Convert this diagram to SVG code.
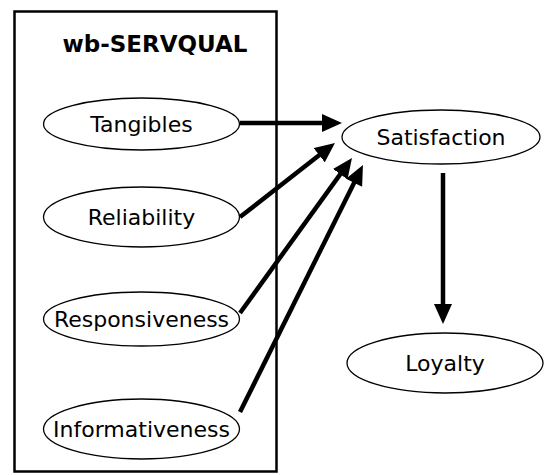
<svg xmlns="http://www.w3.org/2000/svg" width="546" height="475" viewBox="0 0 546 475">
<style>
.node ellipse{fill:#fff;stroke:#000;stroke-width:1.3}
.lbl{font-family:"DejaVu Sans",Verdana,sans-serif;font-size:22px;text-anchor:middle;fill:#000}
.conn line{stroke:#000;stroke-width:4.5;marker-end:url(#ah)}
</style>
<defs>
<marker id="ah" viewBox="0 0 20 18" refX="10" refY="9" markerWidth="20" markerHeight="18" orient="auto" markerUnits="userSpaceOnUse">
<path d="M0,0 L20,9 L0,18 z" fill="#000"/>
</marker>
</defs>
<rect width="546" height="475" fill="#fff"/>
<g id="group-wb-servqual">
<rect x="14.5" y="11.5" width="262" height="460" fill="none" stroke="#000" stroke-width="2.5"/>
<text x="155" y="52" class="lbl" style="font-weight:bold;font-size:23px">wb-SERVQUAL</text>
</g>
<g id="tangibles" class="node"><ellipse cx="141.5" cy="124" rx="98" ry="26"/><text x="141.5" y="132" class="lbl">Tangibles</text></g>
<g id="reliability" class="node"><ellipse cx="141.5" cy="217" rx="98" ry="30"/><text x="141.5" y="225" class="lbl">Reliability</text></g>
<g id="responsiveness" class="node"><ellipse cx="141.5" cy="319" rx="98" ry="27"/><text x="141.5" y="327" class="lbl">Responsiveness</text></g>
<g id="informativeness" class="node"><ellipse cx="141.5" cy="429" rx="98" ry="30"/><text x="141.5" y="437" class="lbl">Informativeness</text></g>
<g id="satisfaction" class="node"><ellipse cx="441" cy="137" rx="99" ry="27"/><text x="441" y="145" class="lbl">Satisfaction</text></g>
<g id="loyalty" class="node"><ellipse cx="445" cy="363" rx="98" ry="30"/><text x="445" y="371" class="lbl">Loyalty</text></g>
<g id="connectors" class="conn">
<line x1="240" y1="123" x2="332" y2="123"/>
<line x1="240" y1="217" x2="327.1" y2="149.1"/>
<line x1="240" y1="313" x2="346.1" y2="166.1"/>
<line x1="240" y1="412" x2="358.5" y2="173.9"/>
<line x1="443" y1="173" x2="443" y2="314"/>
</g>
</svg>
